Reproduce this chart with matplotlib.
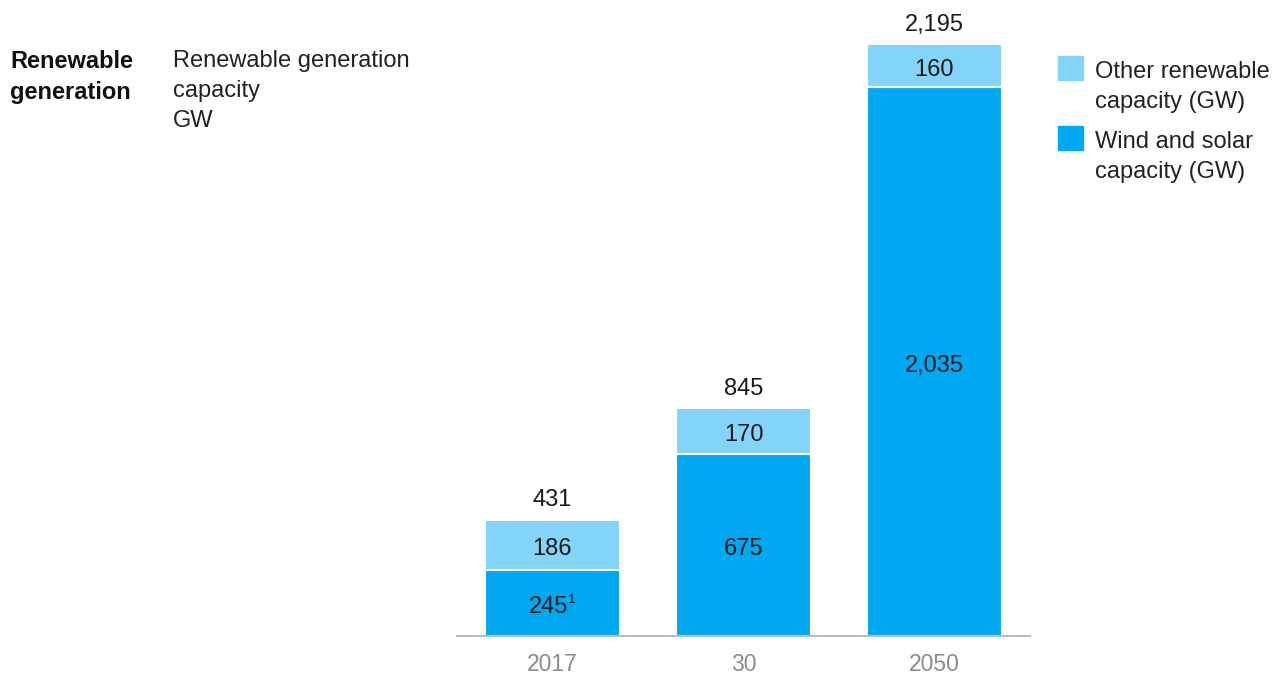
import matplotlib
matplotlib.use("Agg")
import matplotlib.pyplot as plt
from matplotlib.patches import Rectangle

plt.rcParams['font.family'] = ['Liberation Sans', 'DejaVu Sans']

categories = ["2017", "30", "2050"]
wind_solar = [245, 675, 2035]
other = [186, 170, 160]
totals = [431, 845, 2195]

c_light = "#82D4F9"
c_dark = "#00A8F2"
W, H = 1284, 678
fig = plt.figure(figsize=(W/100, H/100), dpi=100)

ymax = 2300
px_per = (636 - 44) / 2195
ax_h = ymax * px_per
ax = fig.add_axes([457/W, 42/H, 573/W, ax_h/H])
x = list(range(len(categories)))
ax.bar(x, wind_solar, width=0.71, color=c_dark, edgecolor="white", linewidth=1.5)
ax.bar(x, other, bottom=wind_solar, width=0.71, color=c_light, edgecolor="white", linewidth=1.5)
ax.set_xlim(-0.5, 2.5)
ax.set_ylim(0, ymax)
for s in ["top", "right", "left"]:
    ax.spines[s].set_visible(False)
ax.spines["bottom"].set_color("#BBBBBB")
ax.spines["bottom"].set_linewidth(1.5)
ax.set_yticks([])
ax.set_xticks(x)
ax.set_xticklabels(categories, fontsize=16.5, color="#8C8C8C")
ax.tick_params(axis="x", length=0, pad=12)

fs = 17
tc = "#1A1A1A"
dy = -3
for i in x:
    ws, ot, tot = wind_solar[i], other[i], totals[i]
    if i == 0:
        ax.annotate(f"{ws:,}", xy=(i, ws / 2), xytext=(-3, dy), textcoords="offset points",
                    ha="center", va="center", fontsize=fs, color=tc)
        ax.annotate("1", xy=(i, ws / 2), xytext=(11, dy + 5), textcoords="offset points",
                    ha="left", va="center", fontsize=9.5, color=tc)
    else:
        ax.annotate(f"{ws:,}", xy=(i, ws / 2), xytext=(0, dy), textcoords="offset points",
                    ha="center", va="center", fontsize=fs, color=tc)
    ax.annotate(f"{ot:,}", xy=(i, ws + ot / 2), xytext=(0, dy), textcoords="offset points",
                ha="center", va="center", fontsize=fs, color=tc)
    ax.annotate(f"{tot:,}", xy=(i, tot), xytext=(0, 14), textcoords="offset points",
                ha="center", va="center", fontsize=fs, color=tc)

# Left titles
fig.text(10/W, 1 - 50/H, "Renewable\ngeneration", ha="left", va="top", fontsize=fs,
         fontweight="bold", color="#111111", linespacing=1.47, multialignment="left")
fig.text(173/W, 1 - 50/H, "Renewable generation\ncapacity\nGW", ha="left", va="top",
         fontsize=fs, color="#222222", linespacing=1.47, multialignment="left")

# Legend
for y0, col, label in [(56, c_light, "Other renewable\ncapacity (GW)"),
                       (126, c_dark, "Wind and solar\ncapacity (GW)")]:
    fig.patches.append(Rectangle((1058/W, 1 - (y0 + 24)/H), 25/W, 24/H, color=col,
                                 transform=fig.transFigure, figure=fig))
    fig.text(1095/W, 1 - (y0 + 5)/H, label, ha="left", va="top", fontsize=fs,
             color="#222222", linespacing=1.47, multialignment="left")

fig.savefig("out.png", dpi=100)
